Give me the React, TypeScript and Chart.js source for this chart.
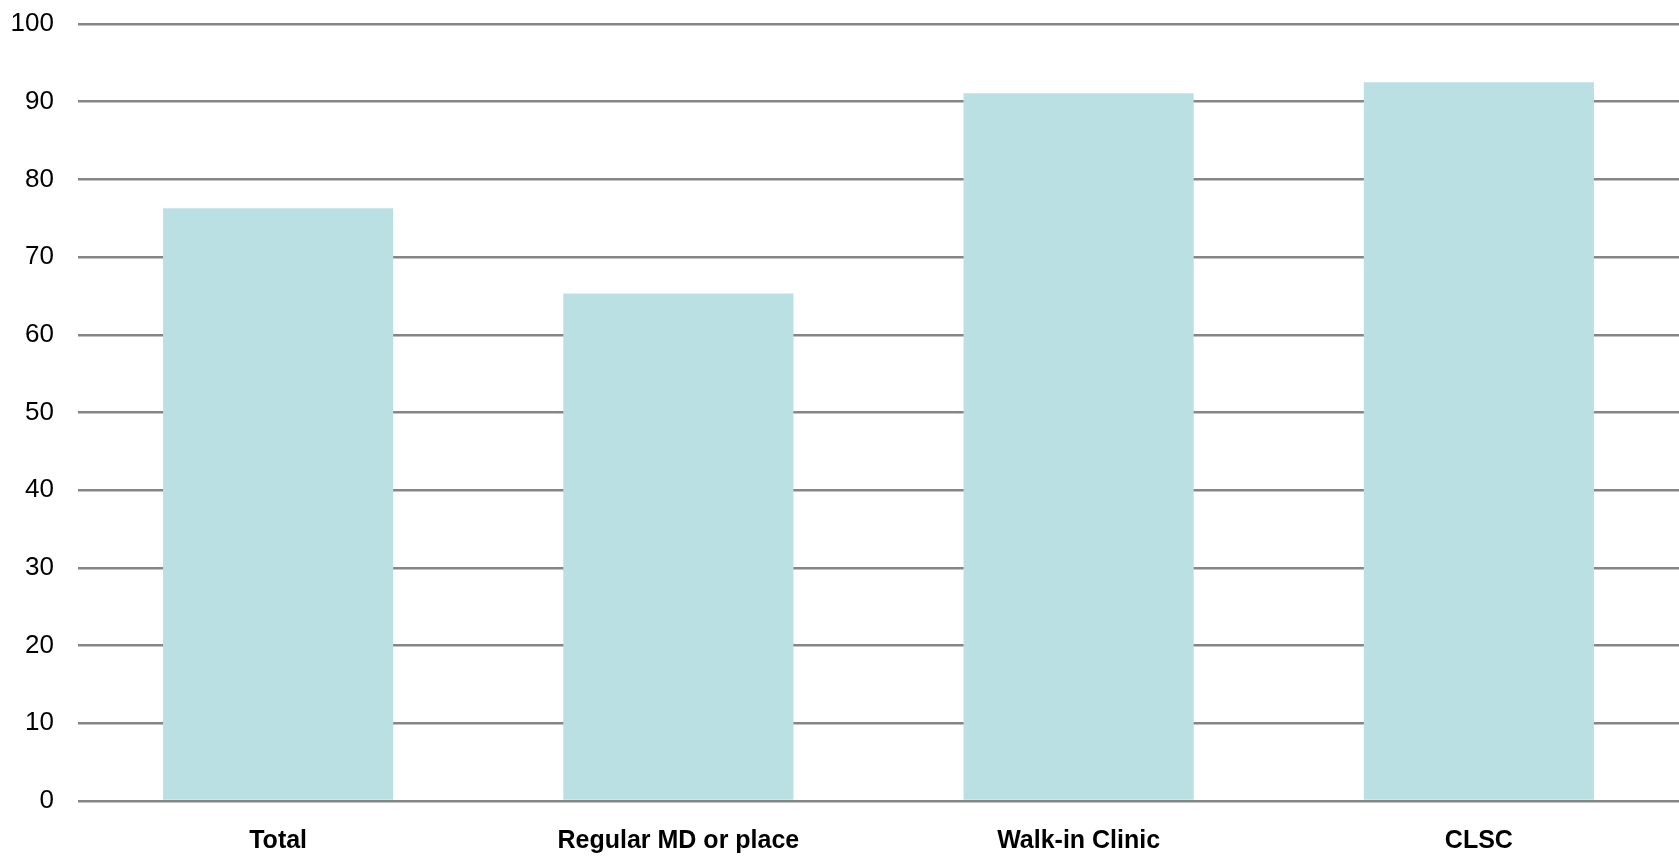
import React, { useEffect, useRef } from "react";
import { Chart, registerables } from "chart.js";

Chart.register(...registerables);

const categories = ["Total", "Regular MD or place", "Walk-in Clinic", "CLSC"];
const values = [76.3, 65.3, 91.1, 92.5];
const yTicks = [0, 10, 20, 30, 40, 50, 60, 70, 80, 90, 100];

export default function App() {
  const ref = useRef<HTMLCanvasElement | null>(null);

  useEffect(() => {
    if (!ref.current) return;
    const chart = new Chart(ref.current, {
      type: "bar",
      data: {
        labels: categories,
        datasets: [
          {
            data: values,
            backgroundColor: "#BBE0E3",
            borderWidth: 0,
            barPercentage: 0.575,
            categoryPercentage: 1,
          },
        ],
      },
      options: {
        animation: false,
        responsive: false,
        maintainAspectRatio: false,
        layout: { padding: { top: 24, right: 0, bottom: 0, left: 0 } },
        plugins: { legend: { display: false }, tooltip: { enabled: false } },
        scales: {
          x: {
            grid: { display: false, drawTicks: false },
            border: { display: false },
            ticks: {
              padding: 25,
              color: "#000",
              maxRotation: 0,
              autoSkip: false,
              font: { family: "'Liberation Sans', Arial, sans-serif", size: 25, weight: "bold" },
            },
            afterFit: (scale: any) => {
              scale.height = 65;
              scale.paddingLeft = 0;
              scale.paddingRight = 0;
            },
          },
          y: {
            min: 0,
            max: 100,
            afterBuildTicks: (scale: any) => {
              scale.ticks = yTicks.map((v) => ({ value: v }));
            },
            grid: { color: "#858585", lineWidth: 2.5, drawTicks: false },
            border: { display: false },
            ticks: {
              padding: 24,
              color: "#000",
              font: { family: "'Liberation Sans', Arial, sans-serif", size: 26 },
            },
            afterFit: (scale: any) => {
              scale.width = 78;
              scale.paddingTop = 0;
              scale.paddingBottom = 0;
            },
          },
        },
      },
    });
    return () => chart.destroy();
  }, []);

  return (
    <div style={{ position: "fixed", left: 0, top: 0, width: 1679, height: 866, background: "#fff" }}>
      <canvas ref={ref} width={1679} height={866} style={{ width: 1679, height: 866 }} />
    </div>
  );
}
